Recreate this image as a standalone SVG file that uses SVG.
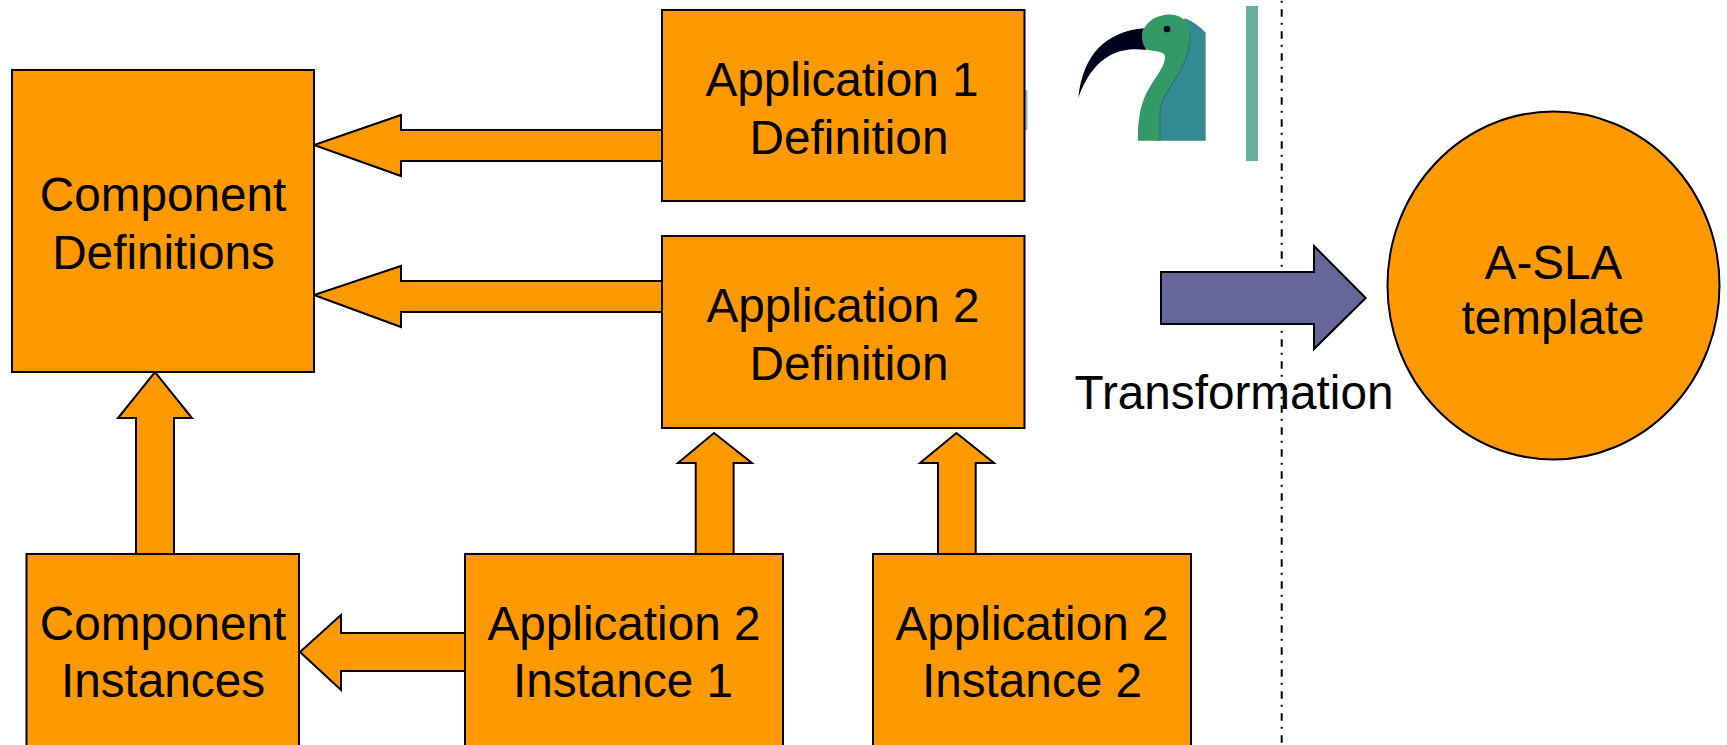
<svg xmlns="http://www.w3.org/2000/svg" width="1727" height="745" viewBox="0 0 1727 745">
<style>
.box{fill:#ff9900;stroke:#000;stroke-width:2}
.arr{fill:#ff9900;stroke:#000;stroke-width:2;stroke-linejoin:miter}
text{font-family:"Liberation Sans",Arial,sans-serif;font-size:47.7px;fill:#000;text-anchor:middle}
</style>
<rect width="1727" height="745" fill="#fff"/>
<g id="logo">
<rect x="1025" y="90" width="2.5" height="40" fill="#8fc4a0"/>
<g transform="translate(1000,0) scale(.3333)">
<path d="M555,55C580,65 600,80 617,98L617,422L470,422L470,300L520,200L540,80Z" fill="#338a92"/>
<path d="M427,100C437,60 480,42 515,44C550,46 568,70 570,100C572,150 555,190 530,230C510,265 480,300 480,340L480,422L414,422C412,350 425,300 450,260C470,225 495,200 495,170C495,155 470,155 445,150C422,140 420,120 427,100Z" fill="#339966"/>
<path d="M570,100C572,150 555,190 530,230C510,265 480,300 480,340L480,422" fill="none" stroke="#2b6468" stroke-width="2.5"/>
<path d="M235,293C250,160 320,95 432,85C422,105 424,130 440,150C370,140 285,155 235,293Z" fill="#00001e"/>
<circle cx="501" cy="87" r="10" fill="#00001e"/>
</g>
<rect x="1246" y="6" width="12" height="155" fill="#6aae9c"/>
</g>
<line id="divider" x1="1281.7" y1="0" x2="1281.7" y2="745" stroke="#000" stroke-width="2" stroke-dasharray="7.5 6 2 6.5" stroke-dashoffset="12.7"/>
<g id="connectors">
<path class="arr" d="M662,130H401V115L314,145L401,176V161H662Z"/>
<path class="arr" d="M662,281H401V266L314,295L401,327V312H662Z"/>
<path class="arr" d="M136,554V418H118L155,372L192,418H174V554Z"/>
<path class="arr" d="M465,633H341V615L300,652L341,690V671H465Z"/>
<path class="arr" d="M695.700,554V463H678L714,433L752,463H733.600V554Z"/>
<path class="arr" d="M938,554V463H920L956.400,433L994,463H975.700V554Z"/>
<path d="M1161,272H1314V246L1365.700,298L1314,349V324H1161Z" fill="#666699" stroke="#000" stroke-width="2"/>
</g>
<g id="component-definitions"><rect class="box" x="12" y="70" width="302" height="302"/><text x="163" y="211">Component</text><text x="163.500" y="269">Definitions</text></g>
<g id="application-1-definition"><rect class="box" x="662" y="10" width="362.500" height="191"/><text x="842" y="96">Application 1</text><text x="849" y="154">Definition</text></g>
<g id="application-2-definition"><rect class="box" x="662" y="236" width="362.500" height="192"/><text x="843" y="322">Application 2</text><text x="849" y="380">Definition</text></g>
<g id="component-instances"><rect class="box" x="26.500" y="554" width="272.500" height="200"/><text x="163" y="640">Component</text><text x="163" y="697">Instances</text></g>
<g id="application-2-instance-1"><rect class="box" x="465" y="554" width="318" height="200"/><text x="624" y="640">Application 2</text><text x="623" y="697">Instance 1</text></g>
<g id="application-2-instance-2"><rect class="box" x="873" y="554" width="318" height="200"/><text x="1032" y="640">Application 2</text><text x="1032" y="697">Instance 2</text></g>
<g id="a-sla-template"><ellipse class="box" cx="1553.500" cy="285.500" rx="166" ry="174"/><text x="1553.500" y="279">A-SLA</text><text x="1553" y="334">template</text></g>
<text id="transformation" x="1234" y="409">Transformation</text>
</svg>
